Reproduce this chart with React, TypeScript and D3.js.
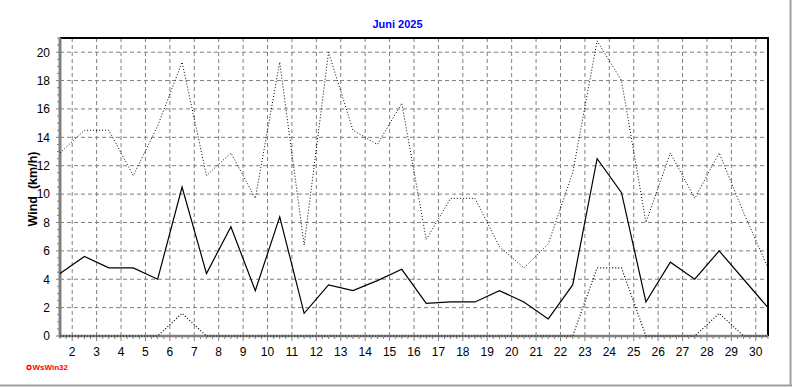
import React from "react";
import * as d3 from "d3";

const title = "Juni 2025";
const yLabel = "Wind\u00a0\u00a0(km/h)";
const days = d3.range(1, 31);
const dayTicks = d3.range(2, 31);
const yTicks = [0, 2, 4, 6, 8, 10, 12, 14, 16, 18, 20];
const meanWind = [4.4, 5.6, 4.8, 4.8, 4.0, 10.5, 4.4, 7.7, 3.2, 8.4, 1.6, 3.6, 3.2, 3.9, 4.7, 2.3, 2.4, 2.4, 3.2, 2.4, 1.2, 3.6, 12.5, 10.1, 2.4, 5.2, 4.0, 6.0, 4.0, 2.0];
const maxWind = [12.9, 14.5, 14.5, 11.3, 14.8, 19.3, 11.3, 12.9, 9.7, 19.3, 6.4, 20.0, 14.5, 13.5, 16.4, 6.8, 9.7, 9.7, 6.3, 4.8, 6.5, 11.5, 20.8, 18.0, 8.0, 12.9, 9.7, 12.9, 8.7, 4.8];
const minWind = [0, 0, 0, 0, 0, 1.6, 0, 0, 0, 0, 0, 0, 0, 0, 0, 0, 0, 0, 0, 0, 0, 0, 4.8, 4.8, 0, 0, 0, 1.6, 0, 0];

const W = 792;
const H = 387;
const L = 60, R = 768, T = 38, B = 336;

export default function App() {
  const x = d3.scaleLinear().domain([1.5, 30.5]).range([L, R]);
  const y = d3.scaleLinear().domain([0, 21]).range([B, T]);
  const line = d3
    .line<number>()
    .x((_, i) => x(days[i] + 0.5))
    .y((v) => y(v));
  const font = "'Liberation Sans', Arial, sans-serif";
  const minorY = d3.range(0, 21.01, 0.5);
  const minorX = d3.range(1.5, 30.51, 0.25);
  return (
    <svg width={W} height={H} style={{ position: "absolute", left: 0, top: 0, background: "#fff" }}>
      <rect x={0} y={0} width={W} height={H} fill="#fff" />
      {/* outer shadow border */}
      <line x1={790.5} y1={0} x2={790.5} y2={386} stroke="#a0a0a0" strokeWidth={2} />
      <line x1={0} y1={385.5} x2={792} y2={385.5} stroke="#a0a0a0" strokeWidth={2} />
      {/* grid */}
      {dayTicks.map((d) => (
        <line key={"gx" + d} x1={x(d)} x2={x(d)} y1={T} y2={B} stroke="#808080" strokeDasharray="4,3" strokeWidth={1} />
      ))}
      {yTicks.filter((v) => v > 0).map((v) => (
        <line key={"gy" + v} x1={L} x2={R} y1={y(v)} y2={y(v)} stroke="#808080" strokeDasharray="4,3" strokeWidth={1} />
      ))}
      {/* frame */}
      <line x1={L} x2={R + 1} y1={T} y2={T} stroke="#000" strokeWidth={2} />
      <line x1={R} x2={R} y1={T} y2={B} stroke="#000" strokeWidth={2} />
      {/* axes */}
      {minorY.map((v) => (
        <line key={"my" + v} x1={L - (v % 2 === 0 ? 4 : 3)} x2={L} y1={y(v)} y2={y(v)} stroke="#808080" strokeWidth={1} />
      ))}
      {minorX.map((v) => (
        <line key={"mx" + v} x1={x(v)} x2={x(v)} y1={B} y2={B + (Number.isInteger(v) ? 5 : 3)} stroke="#808080" strokeWidth={1} />
      ))}
      <line x1={L} x2={L} y1={T} y2={B + 1.5} stroke="#808080" strokeWidth={3} />
      <line x1={L} x2={R} y1={B} y2={B} stroke="#808080" strokeWidth={2.5} />
      {/* series */}
      <path d={line(maxWind) || ""} fill="none" stroke="#000" strokeWidth={1} strokeDasharray="1,2" />
      <path d={line(minWind) || ""} fill="none" stroke="#000" strokeWidth={1.2} strokeDasharray="1,2" />
      <path d={line(meanWind) || ""} fill="none" stroke="#000" strokeWidth={1.2} />
      {/* tick labels */}
      {yTicks.map((v) => (
        <text key={"ty" + v} x={50} y={y(v)} dy="0.36em" textAnchor="end" fontFamily={font} fontSize={12} fill="#000">
          {v}
        </text>
      ))}
      {dayTicks.map((d) => (
        <text key={"tx" + d} x={x(d)} y={352} dy="0.36em" textAnchor="middle" fontFamily={font} fontSize={12} fill="#000">
          {d}
        </text>
      ))}
      <text x={397.5} y={24} dy="0.36em" textAnchor="middle" fontFamily={font} fontSize={11} fontWeight="bold" fill="#0000ff">
        {title}
      </text>
      <text transform={`translate(32,189) rotate(-90)`} dy="0.36em" textAnchor="middle" fontFamily={font} fontSize={12.5} fontWeight="bold" fill="#000">
        {yLabel}
      </text>
      <circle cx={29} cy={367.5} r={2} fill="none" stroke="#ff0000" strokeWidth={1.3} />
      <text x={32.5} y={367.5} dy="0.36em" fontFamily={font} fontSize={8} fontWeight="bold" fill="#ff0000">
        WsWin32
      </text>
    </svg>
  );
}
